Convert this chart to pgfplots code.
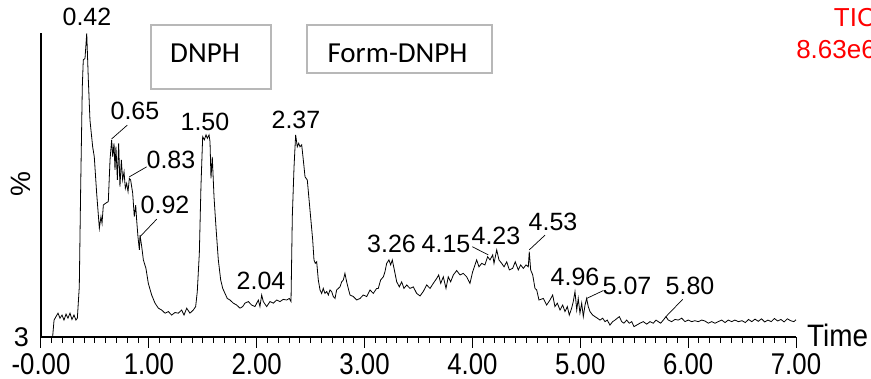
\documentclass[border=0pt]{standalone}
\usepackage{fontspec}
\setmainfont{Liberation Sans}
\newfontfamily\narrowfont[FakeStretch=0.86]{Liberation Sans}
\newfontfamily\timefont[FakeStretch=0.9]{Liberation Sans}
\newfontfamily\calibri{Carlito}
\usepackage{pgfplots}
\pgfplotsset{compat=1.18}
\begin{document}
\begin{tikzpicture}
\begin{axis}[
  at={(41pt,42pt)}, anchor=south west,
  scale only axis, width=755pt, height=304pt,
  xmin=0, xmax=7, ymin=3, ymax=100,
  axis x line=bottom, axis y line=left,
  axis line style={-, line width=1.1pt},
  clip=false,
  tick align=outside,
  xtick={0,1,2,3,4,5,6,7},
  xticklabels={-0.00,1.00,2.00,3.00,4.00,5.00,6.00,7.00},
  minor x tick num=9,
  ytick=\empty,
  minor ytick={10,20,30,40,50,60,70,80,90,100},
  major tick length=11pt, minor tick length=6pt,
  every tick/.style={black, line width=1pt},
  xticklabel style={font=\narrowfont\fontsize{30}{31}\selectfont, anchor=north, inner sep=0pt, yshift=-5pt},
  ylabel={\%},
  ylabel style={font=\fontsize{28}{29}\selectfont, at={(axis description cs:-0.0265,0.503)}, anchor=center},
]
\addplot[black, line width=0.8pt] table {
x y
0.108 3.1
0.121 8.4
0.139 9.5
0.158 10.6
0.176 9.0
0.195 10.0
0.213 8.4
0.232 10.3
0.250 9.0
0.269 10.6
0.287 8.6
0.306 10.0
0.324 8.4
0.337 9.0
0.355 19.0
0.368 51.0
0.383 82.9
0.392 91.4
0.408 91.9
0.424 99.9
0.439 85.0
0.454 72.2
0.479 63.7
0.494 60.5
0.516 48.9
0.541 37.7
0.556 41.4
0.566 39.3
0.578 45.1
0.600 45.7
0.624 46.2
0.640 59.5
0.655 65.9
0.665 60.5
0.677 64.8
0.686 56.3
0.695 63.7
0.708 53.1
0.720 64.8
0.732 51.0
0.745 59.5
0.757 53.1
0.770 55.7
0.782 50.4
0.794 52.0
0.807 49.4
0.819 53.6
0.831 53.1
0.850 48.9
0.865 41.4
0.878 45.1
0.887 40.3
0.899 35.0
0.912 30.8
0.918 35.5
0.934 31.8
0.949 27.6
0.973 24.9
0.995 20.1
1.026 16.4
1.057 13.8
1.088 12.2
1.119 11.6
1.150 10.6
1.181 11.1
1.211 10.0
1.242 10.8
1.273 10.6
1.304 11.6
1.326 10.0
1.351 12.2
1.381 10.6
1.412 11.6
1.434 12.7
1.449 17.5
1.468 29.7
1.483 51.0
1.499 66.9
1.514 65.9
1.530 67.5
1.542 66.4
1.558 67.5
1.567 65.3
1.576 53.6
1.588 60.5
1.604 47.8
1.622 38.2
1.644 27.6
1.666 21.2
1.685 18.5
1.706 16.9
1.727 15.3
1.752 14.8
1.783 13.8
1.814 13.2
1.845 12.2
1.870 12.7
1.891 13.8
1.922 14.3
1.953 13.2
1.984 12.7
2.015 14.8
2.030 12.7
2.046 16.4
2.061 14.3
2.092 12.7
2.123 14.3
2.154 13.8
2.185 14.8
2.216 14.3
2.246 15.0
2.278 14.8
2.302 15.3
2.318 14.3
2.330 41.4
2.346 57.3
2.361 67.5
2.376 63.7
2.389 64.8
2.401 63.7
2.417 64.3
2.432 59.5
2.448 54.1
2.469 53.1
2.494 43.5
2.519 34.0
2.531 27.6
2.543 26.5
2.556 27.0
2.571 21.2
2.587 18.0
2.602 16.9
2.617 18.5
2.633 16.9
2.649 17.5
2.664 16.4
2.679 18.0
2.695 17.5
2.710 15.9
2.726 15.3
2.741 18.0
2.772 19.0
2.788 20.6
2.803 21.2
2.818 23.3
2.834 20.6
2.849 18.5
2.865 16.4
2.896 15.9
2.927 14.8
2.958 15.3
2.988 16.4
3.020 15.9
3.050 18.0
3.081 16.9
3.112 18.5
3.127 18.5
3.149 21.2
3.174 22.2
3.189 23.8
3.205 26.5
3.226 27.6
3.242 26.0
3.257 27.6
3.276 24.4
3.298 20.6
3.322 19.0
3.344 20.6
3.365 18.5
3.391 19.6
3.421 18.5
3.452 19.0
3.483 16.9
3.514 16.1
3.544 17.5
3.576 19.6
3.607 18.5
3.637 20.1
3.669 21.7
3.687 22.8
3.706 20.1
3.730 22.2
3.755 18.5
3.776 22.2
3.798 20.6
3.823 22.8
3.854 24.2
3.885 22.8
3.915 23.3
3.947 22.2
3.977 20.1
4.002 23.8
4.024 26.0
4.039 27.6
4.061 25.4
4.086 26.5
4.116 26.0
4.141 28.6
4.163 27.6
4.188 29.2
4.200 26.5
4.225 30.8
4.246 27.6
4.271 26.5
4.293 25.4
4.318 27.0
4.342 24.4
4.373 24.9
4.397 27.0
4.425 24.4
4.447 26.0
4.472 24.9
4.497 26.0
4.518 25.4
4.527 30.2
4.540 24.4
4.559 22.8
4.580 18.5
4.596 18.0
4.617 14.8
4.657 15.3
4.688 13.2
4.719 14.8
4.744 16.4
4.765 12.7
4.787 13.8
4.812 11.6
4.837 13.2
4.858 11.1
4.880 12.7
4.898 10.0
4.920 12.2
4.935 14.3
4.951 17.5
4.967 11.6
4.981 15.3
4.997 10.6
5.013 13.8
5.028 9.5
5.044 13.2
5.059 15.3
5.074 12.7
5.090 11.1
5.115 10.0
5.136 9.5
5.158 9.0
5.183 8.4
5.208 9.0
5.229 7.9
5.250 8.4
5.275 6.8
5.300 7.9
5.322 8.4
5.343 9.0
5.362 9.5
5.384 7.9
5.405 7.4
5.430 8.4
5.454 7.4
5.477 7.9
5.498 6.3
5.523 6.8
5.553 7.4
5.584 7.9
5.616 7.1
5.646 7.9
5.677 7.4
5.702 8.4
5.723 7.9
5.745 7.4
5.770 8.4
5.794 9.5
5.816 8.4
5.847 7.9
5.878 8.6
5.909 8.4
5.940 9.0
5.971 7.9
6.001 8.4
6.033 7.9
6.063 8.2
6.094 7.9
6.126 8.4
6.156 8.1
6.187 7.4
6.218 7.9
6.249 7.4
6.279 7.9
6.311 8.4
6.342 7.6
6.372 8.4
6.404 7.9
6.434 8.4
6.465 7.9
6.50 8.2
6.53 7.6
6.56 8.6
6.59 7.9
6.62 8.7
6.65 8.0
6.68 8.8
6.71 7.8
6.74 8.4
6.77 7.9
6.80 8.9
6.83 8.1
6.86 8.6
6.89 7.8
6.92 8.8
6.95 8.2
6.98 7.9
7.00 8.5
};
% peak labels
\begin{scope}[every node/.style={font=\fontsize{25}{27}\selectfont, inner sep=0pt, anchor=center}]
\node at (axis cs:0.426,105.1) {0.42};
\node at (axis cs:0.871,75.1) {0.65};
\node at (axis cs:1.205,59.5) {0.83};
\node at (axis cs:1.150,45.1) {0.92};
\node at (axis cs:1.520,71.6) {1.50};
\node at (axis cs:2.040,20.9) {2.04};
\node at (axis cs:2.364,72.2) {2.37};
\node at (axis cs:3.250,32.7) {3.26};
\node at (axis cs:3.755,32.7) {4.15};
\node at (axis cs:4.218,35.2) {4.23};
\node at (axis cs:4.747,39.7) {4.53};
\node at (axis cs:4.951,22.1) {4.96};
\node at (axis cs:5.433,19.3) {5.07};
\node at (axis cs:6.017,19.3) {5.80};
\end{scope}
\begin{scope}[line width=0.7pt]
\draw (axis cs:0.655,66.2) -- (axis cs:0.800,70.6);
\draw (axis cs:0.819,54.1) -- (axis cs:0.980,57.3);
\draw (axis cs:0.918,35.0) -- (axis cs:1.073,40.6);
\draw (axis cs:3.999,31.8) -- (axis cs:4.147,29.2);
\draw (axis cs:4.527,30.8) -- (axis cs:4.673,35.5);
\draw (axis cs:5.059,15.3) -- (axis cs:5.213,17.8);
\draw (axis cs:5.794,9.5) -- (axis cs:5.949,15.0);
\end{scope}
\node[font=\fontsize{27}{28}\selectfont, anchor=east, inner sep=0pt] at (axis cs:0,3) [xshift=-12pt] {3};
\node[font=\timefont\fontsize{31}{32}\selectfont, anchor=base west, inner sep=0pt] at (axis cs:7,3) [xshift=11pt, yshift=-9.5pt] {Time};
\end{axis}
% boxes
\draw[draw=black!28, line width=1.8pt] (151pt,290pt) rectangle (271pt,354pt);
\node[font=\calibri\fontsize{29}{30}\selectfont, inner sep=0pt] at (205pt,326pt) {DNPH};
\draw[draw=black!28, line width=1.8pt] (307pt,306pt) rectangle (492pt,354pt);
\node[font=\calibri\fontsize{29}{30}\selectfont, inner sep=0pt] at (397.5pt,326pt) {Form-DNPH};
% red annotation
\node[red, font=\fontsize{26}{27}\selectfont, anchor=east, inner sep=0pt] at (876pt,361pt) {TIC};
\node[red, font=\fontsize{26}{27}\selectfont, anchor=east, inner sep=0pt] at (876pt,329pt) {8.63e6};
\pgfresetboundingbox
\path[use as bounding box] (0,0) rectangle (871pt,379pt);
\end{tikzpicture}
\end{document}
